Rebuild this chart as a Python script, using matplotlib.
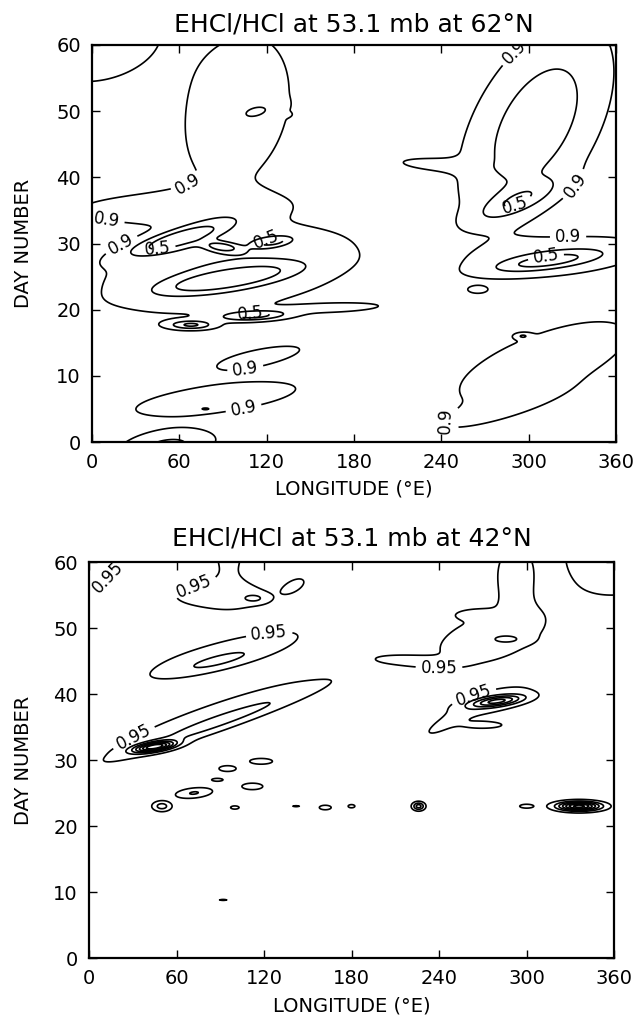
import numpy as np
import matplotlib
matplotlib.use("Agg")
import matplotlib.pyplot as plt

# ---- dados ----
# cada "mancha" de baixa razao: longitude, dia, comprimento, largura, angulo, profundidade
# (comprimento e largura em unidades de dia; longitude escalada por 1/6)

# 62N
lon_62   = [100, 115, 131,  -5,  55,  95,  60,  89, 124,  93, 111,  68, 170, 115,  85,  78,  52,
            305, 292, 232, 322, 312, 265, 310, 280, 296]
dia_62   = [ 50,  50, 49.5, 63, 35.5, 26, 30.8, 29.5, 30.3, 24.6, 19.1, 17.7, 20.3, 12.8, 6.5, 5, -0.5,
             48, 36.5, 42,  28, 27.3, 23,  12,   5,  16]
comp_62  = [9.0, 1.6, 0.5, 6.3, 9.0, 10.0, 4.2, 1.4, 1.5, 5.0, 2.6, 1.7, 4.5, 4.5, 9.0, 0.6, 3.5,
            9.5, 3.5, 3.5, 7.0, 4.0, 1.0, 9.0, 5.0, 0.6]
larg_62  = [4.5, 0.8, 0.25, 6.3, 1.8, 4.0, 1.0, 0.5, 0.5, 1.0, 0.5, 0.45, 0.6, 1.1, 2.0, 0.2, 1.4,
            4.2, 1.2, 0.8, 2.0, 0.8, 0.5, 3.5, 1.1, 0.3]
ang_62   = [80, 20, 0, 0, 3, 12, 21, -10, 10, 12, 3, 0, 3, 15, 10, 0, 10,
            70, 30, -5, 8, 10, 0, 28, 22, 0]
prof_62  = [0.22, 0.14, 0.17, 0.25, 0.20, 0.30, 0.60, 0.45, 0.45, 0.55, 0.55, 0.50, 0.15, 0.17, 0.17, 0.2, 0.35,
            0.46, 0.35, 0.14, 0.25, 0.40, 0.14, 0.20, 0.15, 0.25]
niveis_62 = [0.5, 0.7, 0.9]
rot_09_62 = [(64, 40.1), (10, 33.5), (25, 27.8), (105, 11.6), (105, 4.1),
             (303, 56.2), (343, 37), (327, 32), (237, 3.8)]
rot_05_62 = [(45, 29.5), (120, 30.5), (109, 19.2), (293, 34), (312, 27.8)]

# 42N
lon_42   = [-5, 96, 92, 113, 141, 96, 88, 85, 90, 45,
            95, 118, 88, 112, 72, 50, 100, 142, 162, 180, 226, 300, 336, 92,
            275, 291, 220, 266, 287, 362, 275, 245, 280, 270]
dia_42   = [63, 62, 54.8, 54.5, 56.5, 46.5, 44.9, 36.5, 35.8, 32,
            28.7, 29.8, 27, 26, 25, 23, 22.8, 23, 22.8, 23, 23, 23, 23, 8.8,
            48.5, 58, 45, 52, 48.3, 61, 38.8, 35.5, 38.9, 35.3]
comp_42  = [4.6, 1.7, 5.2, 0.9, 1.1, 8.0, 4.0, 10.0, 7.5, 1.6,
            0.9, 1.2, 0.6, 1.1, 1.4, 0.7, 0.5, 0.45, 0.7, 0.4, 0.45, 0.8, 1.6, 0.5,
            5.5, 1.6, 3.0, 1.5, 1.4, 6.0, 4.0, 2.2, 2.0, 1.8]
larg_42  = [7.2, 4.3, 1.8, 0.45, 0.6, 1.6, 0.8, 1.5, 0.7, 0.45,
            0.4, 0.4, 0.2, 0.45, 0.5, 0.5, 0.25, 0.1, 0.35, 0.25, 0.4, 0.3, 0.45, 0.1,
            3.0, 3.5, 0.6, 0.5, 0.5, 6.0, 1.3, 0.6, 0.5, 0.4]
ang_42   = [0, 0, 0, 0, 40, 18, 18, 25, 25, 12,
            0, 0, 0, 0, 8, 0, 0, 0, 0, 0, 0, 0, 0, 0,
            25, 0, -5, 0, 0, 0, 20, 35, 10, 0]
prof_42  = [0.08, 0.07, 0.08, 0.13, 0.08, 0.08, 0.12, 0.10, 0.12, 0.65,
            0.09, 0.09, 0.09, 0.09, 0.16, 0.20, 0.08, 0.07, 0.08, 0.08, 0.30, 0.08, 0.70, 0.07,
            0.09, 0.08, 0.08, 0.10, 0.10, 0.08, 0.10, 0.08, 0.40, 0.10]
niveis_42 = [0.35, 0.45, 0.55, 0.65, 0.75, 0.85, 0.95]
rot_095_42 = [(14, 57.5), (73, 55.8), (123, 50.3), (31, 33.3), (240, 44), (263, 40.3)]


def montar_campo(lon_b, dia_b, comp, larg, ang, prof):
    lon = np.linspace(0, 360, 721)
    dia = np.linspace(0, 60, 601)
    LON, DIA = np.meshgrid(lon, dia)
    campo = np.ones_like(LON)
    for x0, y0, sl, sw, a, p in zip(lon_b, dia_b, comp, larg, ang, prof):
        dx = (LON - x0) / 6.0
        dy = DIA - y0
        t = np.deg2rad(a)
        u = dx * np.cos(t) + dy * np.sin(t)
        v = -dx * np.sin(t) + dy * np.cos(t)
        campo -= p * np.exp(-0.5 * ((u / sl) ** 2 + (v / sw) ** 2))
    return LON, DIA, campo


def desenhar(ax, dados, niveis, rotulos, titulo, fig, y_titulo, y_xlabel):
    LON, DIA, Z = montar_campo(*dados)
    # um contorno por nivel, para poder rotular so alguns
    for nivel in niveis:
        cs = ax.contour(LON, DIA, Z, levels=[nivel], colors='k', linewidths=1.2)
        if nivel in rotulos:
            ax.clabel(cs, manual=rotulos[nivel], fmt='%g', fontsize=12, inline=True)
    ax.set_xlim(0, 360)
    ax.set_ylim(0, 60)
    ax.set_xticks(range(0, 361, 60))
    ax.set_yticks(range(0, 61, 10))
    ax.tick_params(direction='in', top=True, right=True, length=6, width=1,
                   labelsize=14, pad=8)
    for s in ax.spines.values():
        s.set_linewidth(1.6)
    pos = ax.get_position()
    xc = (pos.x0 + pos.x1) / 2
    fig.text(xc, 1 - y_titulo / 1019, titulo, ha='center', va='center', fontsize=18)
    fig.text(xc, 1 - y_xlabel / 1019, 'LONGITUDE (°E)', ha='center', va='center', fontsize=14)
    fig.text(24 / 635, (pos.y0 + pos.y1) / 2, 'DAY NUMBER', ha='center', va='center',
             rotation=90, fontsize=14)


fig = plt.figure(figsize=(6.35, 10.19), dpi=100)
ax1 = fig.add_axes([92 / 635, 1 - 442 / 1019, 524 / 635, 397 / 1019])
ax2 = fig.add_axes([89 / 635, 1 - 958 / 1019, 525 / 635, 396 / 1019])

desenhar(ax1, (lon_62, dia_62, comp_62, larg_62, ang_62, prof_62), niveis_62,
         {0.9: rot_09_62, 0.5: rot_05_62},
         'EHCl/HCl at 53.1 mb at 62°N', fig, 25, 489)
desenhar(ax2, (lon_42, dia_42, comp_42, larg_42, ang_42, prof_42), niveis_42,
         {0.95: rot_095_42},
         'EHCl/HCl at 53.1 mb at 42°N', fig, 539, 1006)

fig.savefig('out.png', dpi=100)
